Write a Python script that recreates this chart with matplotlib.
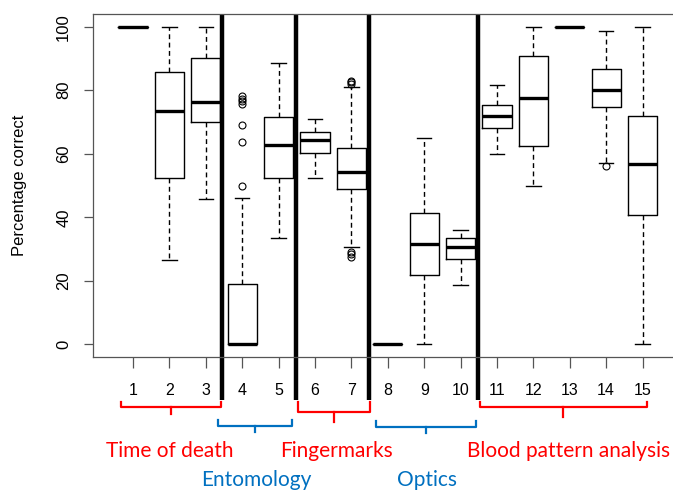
import matplotlib
matplotlib.use('Agg')
import matplotlib.pyplot as plt
from matplotlib.transforms import blended_transform_factory

plt.rcParams['font.family'] = ['Liberation Sans', 'DejaVu Sans']

# box statistics (percentage correct)
positions = list(range(1, 16))
q1 = [100, 52.3, 70.1, 0, 52.3, 60.2, 48.8, 0, 21.8, 27.0, 68.0, 62.5, 100, 74.7, 40.7]
med = [100, 73.6, 76.3, 0, 62.9, 64.2, 54.4, 0, 31.6, 30.6, 71.9, 77.5, 100, 80.0, 56.9]
q3 = [100, 85.6, 90.1, 19.0, 71.5, 66.7, 61.9, 0, 41.4, 33.4, 75.4, 90.7, 100, 86.6, 71.9]
whislo = [100, 26.4, 45.8, 0, 33.4, 52.3, 30.6, 0, 0, 18.8, 59.9, 49.9, 100, 57.2, 0]
whishi = [100, 100, 100, 46.2, 88.7, 71.0, 81.0, 0, 64.9, 35.9, 81.6, 100, 100, 98.8, 100]
fliers = {4: [49.9, 63.8, 68.9, 75.8, 76.5, 77.3, 78.3],
          7: [82.0, 82.5, 83.0, 27.5, 28.3, 29.0],
          14: [56.2]}

group_names = ['Time of death', 'Entomology', 'Fingermarks', 'Optics', 'Blood pattern analysis']
group_colors = ['#FF0000', '#0070C0', '#FF0000', '#0070C0', '#FF0000']

# layout of separators / brackets (x in data units, y in pixels from top)
sep_x = [3.45, 5.47, 7.48, 10.47]
brk_x = [(0.66, 3.41), (3.34, 5.38), (5.54, 7.51), (7.68, 10.42), (10.53, 15.11)]
brk_y = [(401.7, 406.7, 414), (420, 426, 432), (401.7, 411.7, 422),
         (420.7, 426.7, 433), (401.7, 407.3, 416.7)]
txt_x = [2.01, 4.38, 6.58, 9.08, 12.96]
txt_y = [457, 485.5, 457, 485.5, 457]

W, H = 673, 490
fig = plt.figure(figsize=(W / 100, H / 100), dpi=100)
ax = fig.add_axes([93 / W, (H - 357) / H, 589.6 / W, 343 / H])

stats = []
for i in range(15):
    stats.append(dict(med=med[i], q1=q1[i], q3=q3[i], whislo=whislo[i],
                      whishi=whishi[i], fliers=fliers.get(i + 1, [])))

ax.bxp(stats, positions=positions, widths=0.8,
       boxprops=dict(color='black', lw=1),
       medianprops=dict(color='black', lw=2.4, solid_capstyle='butt'),
       whiskerprops=dict(color='black', lw=1, ls=(0, (3.5, 2.5))),
       capprops=dict(color='black', lw=1),
       flierprops=dict(marker='o', mfc='none', mec='black', ms=5, mew=0.8))

ax.set_xlim(-0.1, 16.1)
ax.set_ylim(-4, 104)
for s in ax.spines.values():
    s.set_color('#555555')
    s.set_linewidth(0.9)

ax.set_yticks([0, 20, 40, 60, 80, 100])
ax.tick_params(axis='y', length=6.7, width=0.9, color='#555555', pad=9, labelsize=12,
               labelrotation=90)
for lab in ax.get_yticklabels():
    lab.set_va('center')
ax.set_xticks(positions)
ax.set_xticklabels([str(p) for p in positions])
ax.tick_params(axis='x', length=7.9, width=0.9, color='#555555', pad=11, labelsize=11.5)

fig.text(20 / W, 1 - 185 / H, 'Percentage correct', rotation=90, ha='center',
         va='center', fontsize=12)


def py(y):
    return 1 - y / H


trans = blended_transform_factory(ax.transData, fig.transFigure)
for x in sep_x:
    ax.plot([x, x], [py(14), py(400)], transform=trans, color='black', lw=3.2,
            clip_on=False, solid_capstyle='butt')

for (x0, x1), (yt, yl, yp), c, name, tx, ty in zip(brk_x, brk_y, group_colors,
                                                   group_names, txt_x, txt_y):
    xm = (x0 + x1) / 2
    ax.plot([x0, x0, x1, x1], [py(yt), py(yl), py(yl), py(yt)], transform=trans,
            color=c, lw=1.6, clip_on=False, solid_joinstyle='round')
    ax.plot([xm, xm], [py(yl), py(yp)], transform=trans, color=c, lw=1.6,
            clip_on=False)
    ax.text(tx, py(ty), name, transform=trans, color=c, ha='center', va='baseline',
            fontsize=15, family='Lato')

fig.savefig('out.png', dpi=100)
